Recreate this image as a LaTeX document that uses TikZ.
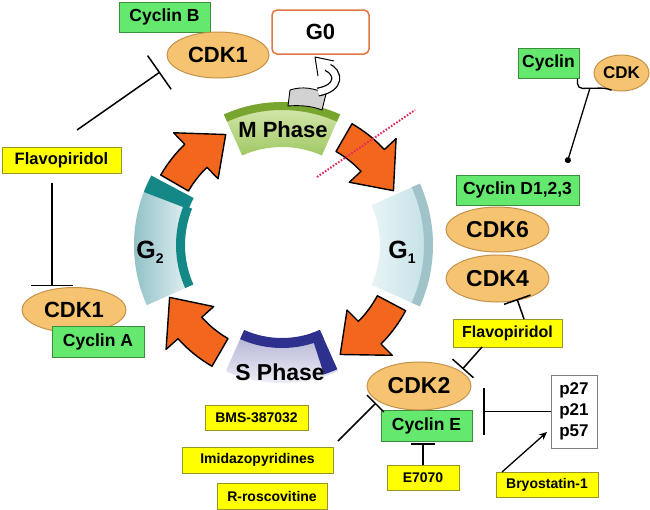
\documentclass[tikz,border=0pt]{standalone}
\usepackage{fontspec}
\setmainfont{Liberation Sans}
\usetikzlibrary{arrows.meta,shapes.geometric}
\definecolor{yfill}{RGB}{255,255,0}
\definecolor{ydraw}{RGB}{150,150,40}
\definecolor{gfill}{RGB}{100,232,110}
\definecolor{gdraw}{RGB}{60,140,60}
\definecolor{efill}{RGB}{246,196,112}
\definecolor{edraw}{RGB}{195,145,75}
\definecolor{arrorange}{RGB}{242,102,30}
\definecolor{mlight}{RGB}{222,236,184}
\definecolor{mdark}{RGB}{160,200,100}
\definecolor{mstrip}{RGB}{120,165,45}
\definecolor{glight}{RGB}{232,244,246}
\definecolor{gmid}{RGB}{190,222,228}
\definecolor{g1strip}{RGB}{160,195,202}
\definecolor{g2dark}{RGB}{140,190,195}
\definecolor{g2strip}{RGB}{20,135,135}
\definecolor{slight}{RGB}{242,242,250}
\definecolor{sdark}{RGB}{175,175,210}
\definecolor{sstrip}{RGB}{45,48,140}
\definecolor{g0draw}{RGB}{225,120,65}
\definecolor{dotred}{RGB}{230,40,90}
\newcommand\annsec[5][]{\path[#1] (#2:#5) arc[start angle=#2,end angle=#3,radius=#5] -- (#3:#4) arc[start angle=#3,end angle=#2,radius=#4] -- cycle;}
\newcommand\cycarr[2]{%
  \pgfmathsetmacro\hb{#2+17}%
  \path[cycstyle] (#1:140) arc[start angle=#1,end angle=\hb,radius=140] -- (\hb:156) -- (#2:124) -- (\hb:92) -- (\hb:108) arc[start angle=\hb,end angle=#1,radius=108] -- cycle;}
\begin{document}
\begin{tikzpicture}[x=1pt,y=1pt,
  ybox/.style={draw=ydraw,fill=yfill,line width=1pt,inner sep=0pt,font=\bfseries\fontsize{14}{14}\selectfont},
  ybig/.style={ybox,font=\bfseries\fontsize{16.5}{16.5}\selectfont},
  gbox/.style={draw=gdraw,fill=gfill,line width=1pt,inner sep=0pt,font=\bfseries\fontsize{17.5}{17.5}\selectfont},
  cdk/.style={ellipse,draw=edraw,fill=efill,line width=1pt,inner sep=0pt,font=\bfseries\fontsize{23}{23}\selectfont},
  inh/.style={line width=1.5pt},
  cycstyle/.style={fill=arrorange,draw=black,line width=1.4pt,line join=round},
  phase/.style={font=\bfseries\fontsize{22}{22}\selectfont}]
\path[use as bounding box] (0,0) rectangle (650,-509);

% ---------- cell cycle ring ----------
\begin{scope}[shift={(282,-245)}]
  % M phase
  \annsec[top color=mlight,bottom color=mdark]{66}{114}{98}{142}
  \annsec[fill=mstrip]{66}{114}{135}{143}
  % G1
  \annsec[left color=glight,right color=gmid]{-24}{24}{98}{150}
  \annsec[fill=g1strip]{-24}{24}{142}{151}
  % S phase
  \annsec[top color=sdark,bottom color=slight]{-66}{-114}{94}{138}
  \annsec[fill=sstrip]{-66}{-114}{93}{103}
  \annsec[fill=sstrip]{-66}{-72}{93}{136}
  % G2
  \annsec[left color=g2dark,right color=glight]{158}{204}{97}{148}
  \annsec[fill=g2strip]{158}{204}{97}{106}
  \annsec[fill=g2strip]{152}{159}{100}{148}
  % arrows
  \cycarr{150}{117}
  \cycarr{60}{26}
  \cycarr{-28}{-62}
  \cycarr{-120}{-155}
\end{scope}

\node[phase] (mph) at (283,-130) {M Phase};
\node[phase,font=\bfseries\fontsize{23}{23}\selectfont] (sph) at (280,-372) {S Phase};
\node (g1) at (402,-252) {\bfseries\fontsize{25}{25}\selectfont G\raisebox{-5pt}{\fontsize{14}{14}\selectfont 1}};
\node (g2) at (150,-252) {\bfseries\fontsize{25}{25}\selectfont G\raisebox{-5pt}{\fontsize{14}{14}\selectfont 2}};

% ---------- G0 and curl ----------
\node[draw=g0draw,fill=white,line width=1.5pt,rounded corners=5pt,minimum width=97pt,minimum height=44pt,inner sep=0pt,font=\bfseries\fontsize{22}{22}\selectfont] (g0) at (320.5,-32) {G0};
\draw[fill=gray!35,line width=0.9pt] (290,-90) .. controls (302,-86) and (315,-88) .. (326,-94) -- (322,-110) .. controls (312,-106) and (300,-105) .. (288,-106) -- cycle;
\draw[line width=9pt,black] (318,-92) .. controls (341,-88) and (339,-72) .. (327,-67);
\draw[line width=6.5pt,white] (318,-92) .. controls (341,-88) and (339,-72) .. (327,-67);
\fill[white] (334,-61) -- (315,-57) -- (318,-76) -- cycle;
\draw[line width=1pt,line join=round] (334,-61) -- (315,-57) -- (318,-76);

% ---------- nodes ----------
\node[gbox,minimum width=91pt,minimum height=30pt] (cyclinB) at (164.5,-17) {Cyclin B};
\node[cdk,minimum width=102pt,minimum height=46pt,font=\bfseries\fontsize{22}{22}\selectfont] (cdk1t) at (218,-55) {CDK1};
\node[ybig,minimum width=119pt,minimum height=26pt] (flavoL) at (61.5,-160) {Flavopiridol};
\node[cdk,minimum width=104pt,minimum height=45pt,font=\bfseries\fontsize{22}{22}\selectfont] (cdk1b) at (74,-310) {CDK1};
\node[gbox,minimum width=92pt,minimum height=31pt] (cyclinA) at (98,-341.5) {Cyclin A};

\node[gbox,minimum width=61pt,minimum height=30pt] (cyclinTR) at (548.5,-63) {Cyclin};
\node[cdk,minimum width=55pt,minimum height=36pt,font=\bfseries\fontsize{17}{17}\selectfont] (cdkTR) at (621.5,-73) {CDK};
\node[gbox,minimum width=123pt,minimum height=30pt] (cyclinD) at (517.5,-190) {Cyclin D1,2,3};
\node[cdk,minimum width=103pt,minimum height=45pt] (cdk6) at (497.5,-229.5) {CDK6};
\node[cdk,minimum width=103pt,minimum height=47pt] (cdk4) at (497.5,-278.5) {CDK4};
\node[ybig,minimum width=109pt,minimum height=28pt,font=\bfseries\fontsize{16}{16}\selectfont] (flavoR) at (507.5,-333) {Flavopiridol};
\node[gbox,minimum width=91pt,minimum height=31pt] (cyclinE) at (426.5,-425.5) {Cyclin E};
\node[cdk,minimum width=104pt,minimum height=48pt] (cdk2) at (419,-386) {CDK2};
\node[draw=gray,fill=white,line width=1pt,minimum width=46pt,minimum height=73pt,inner sep=0pt,align=center,font=\bfseries\fontsize{17}{21}\selectfont] (pbox) at (574,-411.5) {p27\\p21\\p57};
\node[ybox,minimum width=102pt,minimum height=25pt] (bryo) at (547,-484.5) {Bryostatin-1};
\node[ybox,minimum width=72pt,minimum height=25pt] (e7070) at (423,-477.5) {E7070};
\node[ybox,minimum width=103pt,minimum height=25pt] (bms) at (256.5,-417.5) {BMS-387032};
\node[ybox,minimum width=151pt,minimum height=26pt] (imid) at (257.5,-460) {Imidazopyridines};
\node[ybox,minimum width=110pt,minimum height=26pt] (rrosc) at (272,-496) {R-roscovitine};

% ---------- connectors ----------
\coordinate (fl1a) at (77,-130);
\coordinate (fl1b) at (160,-72);
\draw[inh,-{Bar[width=41pt]}] (fl1a) -- (fl1b);
\coordinate (fl2a) at (52,-183);
\coordinate (fl2b) at (52,-286);
\draw[inh,-{Bar[width=42pt]}] (fl2a) -- (fl2b);

\coordinate (brk) at (590,-88);
\coordinate (dotend) at (567,-163);
\draw[line width=1.3pt,rounded corners=5pt] ([xshift=-2pt]cyclinTR.south east) -- ++(0,-10) -- (606,-88) -- (cdkTR.240);
\draw[line width=1.3pt,-{Circle[length=6pt]}] (brk) -- (dotend);

\coordinate (fr1a) at (524,-319);
\coordinate (fr1b) at (517,-299);
\draw[inh,-{Bar[width=28pt]}] (fr1a) -- (fr1b);
\coordinate (fr2a) at (482,-347);
\coordinate (fr2b) at (462.5,-369);
\draw[inh,-{Bar[width=28pt]}] (fr2a) -- (fr2b);

\coordinate (pbar) at (483,-411.5);
\draw[inh,-{Bar[width=47pt]}] (pbox.west) -- (pbar);
\coordinate (bra) at (502,-472);
\coordinate (brb) at (547,-432);
\draw[line width=1.3pt,-{Stealth[length=8pt,width=7pt]}] (bra) -- (brb);
\coordinate (ebar) at (423,-443);
\draw[inh,-{Bar[width=24pt]}] (e7070.north) -- (ebar);
\coordinate (lla) at (338,-441);
\coordinate (llb) at (376,-403);
\draw[inh,-{Bar[width=24pt]}] (lla) -- (llb);

\draw[dotred,line width=2pt,dash pattern=on 1.6pt off 1.6pt] (317,-177) -- (415,-110);
\end{tikzpicture}
\end{document}
